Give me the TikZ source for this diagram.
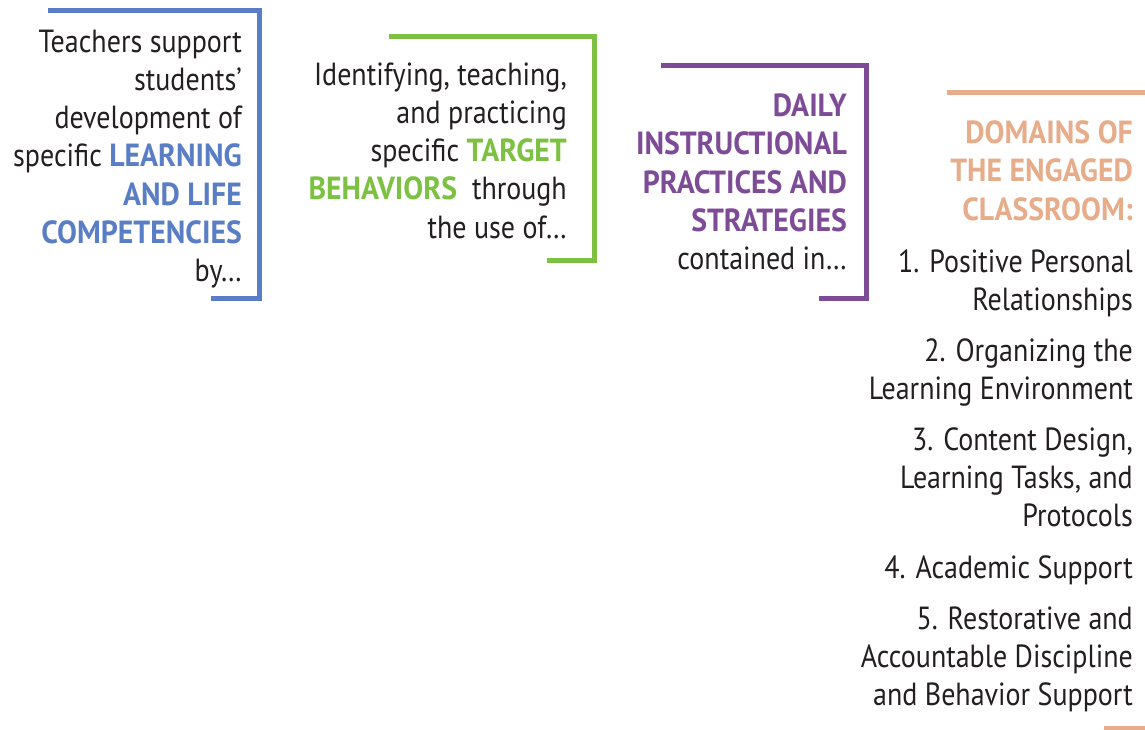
\documentclass[tikz,border=0pt]{standalone}
\usepackage{fontspec}
\setmainfont{PT Sans}[FakeStretch=0.875,BoldFeatures={FakeStretch=0.93}]
\definecolor{blueC}{HTML}{5A7EC5}
\definecolor{greenC}{HTML}{7DC143}
\definecolor{purpleC}{HTML}{7E4B97}
\definecolor{orangeC}{HTML}{E7AD8B}
\definecolor{inkC}{HTML}{231F20}
\newcommand{\rblock}[1]{\begin{tabular}[t]{@{}r@{}}#1\end{tabular}}
\begin{document}
\begin{tikzpicture}[x=1pt,y=-1pt,
  txt/.style={anchor=base east,inner sep=0pt,text=inkC,font=\fontsize{32}{38.3}\selectfont},
  bracket/.style={line width=5pt,line join=miter}]
\useasboundingbox (0,0) rectangle (1145,729);
\fill[white] (0,0) rectangle (1145,729);
% brackets
\coordinate (b1) at (48,10); \coordinate (b2) at (259,10); \coordinate (b3) at (259,298); \coordinate (b4) at (211,298);
\draw[bracket,blueC] (b1) -- (b2) -- (b3) -- (b4);
\coordinate (g1) at (389,36.5); \coordinate (g2) at (594.5,36.5); \coordinate (g3) at (594.5,260); \coordinate (g4) at (547,260);
\draw[bracket,greenC] (g1) -- (g2) -- (g3) -- (g4);
\coordinate (p1) at (661,65.5); \coordinate (p2) at (866.5,65.5); \coordinate (p3) at (866.5,298); \coordinate (p4) at (819,298);
\draw[bracket,purpleC] (p1) -- (p2) -- (p3) -- (p4);
\coordinate (o1) at (947,92.5); \coordinate (o2) at (1150,92.5);
\draw[bracket,orangeC] (o1) -- (o2);
\coordinate (o3) at (1104,728); \coordinate (o4) at (1150,728);
\draw[bracket,orangeC] (o3) -- (o4);
% texts
\node[txt] (blue) at (242,52) {\rblock{Teachers support\\ students’\\ development of\\ specific \textbf{\color{blueC}LEARNING}\\ \textbf{\color{blueC}AND LIFE}\\ \textbf{\color{blueC}COMPETENCIES}\\ by…}};
\node[txt] (green) at (567,85) {\rblock{Identifying, teaching,\\ and practicing\\ specific \textbf{\color{greenC}TARGET}\\ \textbf{\color{greenC}BEHAVIORS}\ \ through\\ the use of…}};
\node[txt] (purple) at (847,116.5) {\rblock{\textbf{\color{purpleC}DAILY}\\ \textbf{\color{purpleC}INSTRUCTIONAL}\\ \textbf{\color{purpleC}PRACTICES AND}\\ \textbf{\color{purpleC}STRATEGIES}\\ contained in…}};
\node[txt,text=orangeC,font=\fontsize{32}{38.4}\selectfont\bfseries] (head) at (1133,143.3) {\rblock{DOMAINS OF\\ THE ENGAGED\\ CLASSROOM:}};
\node[txt] (d1) at (1133,272) {\rblock{1. Positive Personal\\ Relationships}};
\node[txt] (d2) at (1133,361) {\rblock{2. Organizing the\\ Learning Environment}};
\node[txt] (d3) at (1133,450) {\rblock{3. Content Design,\\ Learning Tasks, and\\ Protocols}};
\node[txt] (d4) at (1133,578) {\rblock{4. Academic Support}};
\node[txt] (d5) at (1133,629) {\rblock{5. Restorative and\\ Accountable Discipline\\ and Behavior Support}};
\end{tikzpicture}
\end{document}
